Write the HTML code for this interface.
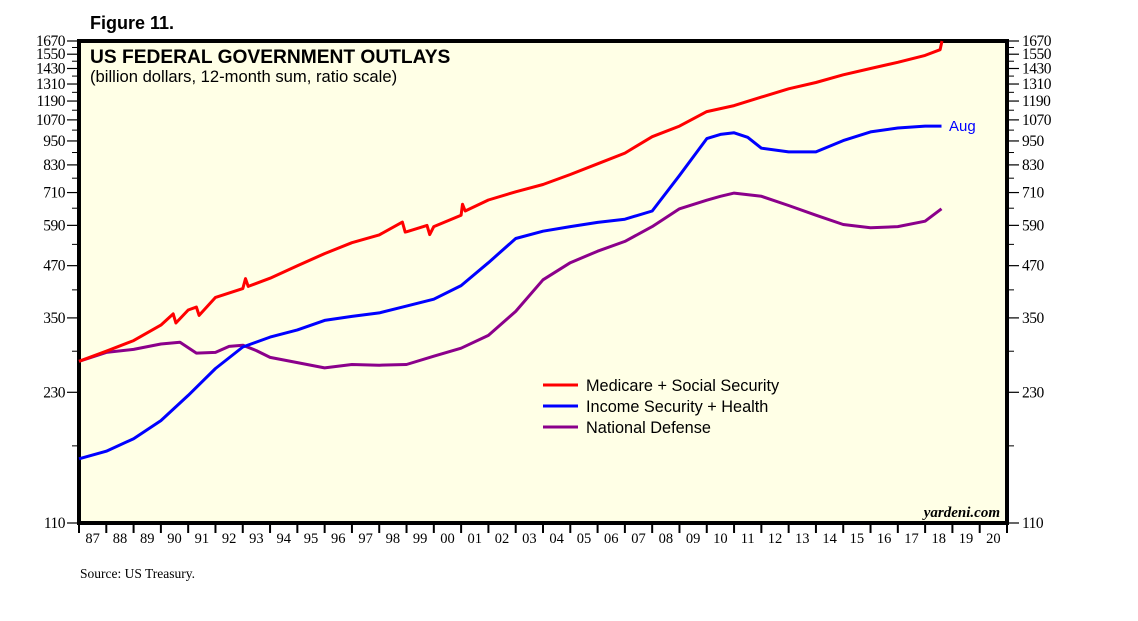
<!DOCTYPE html>
<html><head><meta charset="utf-8"><style>
body{margin:0;background:#fff;width:1138px;height:621px;overflow:hidden}
svg{display:block}
</style></head><body>
<svg id="chart" width="1138" height="621" xmlns="http://www.w3.org/2000/svg">
<text x="90" y="29" font-family="Liberation Sans, sans-serif" font-weight="bold" font-size="18">Figure 11.</text>
<rect x="79" y="41" width="928" height="482" fill="#ffffe6" stroke="#000" stroke-width="4"/>
<text x="90" y="63" font-family="Liberation Sans, sans-serif" font-weight="bold" font-size="19.2">US FEDERAL GOVERNMENT OUTLAYS</text>
<text x="90" y="82" font-family="Liberation Sans, sans-serif" font-size="16.6">(billion dollars, 12-month sum, ratio scale)</text>
<text x="1000" y="517" text-anchor="end" font-family="Liberation Serif, serif" font-style="italic" font-weight="bold" font-size="15">yardeni.com</text>
<text x="80" y="578" font-family="Liberation Serif, serif" font-size="13.5">Source: US Treasury.</text>
<g id="axes"></g>
<g id="series"></g>
<g id="legend" font-family="Liberation Sans, sans-serif" font-size="16.3">
<line x1="543" y1="385" x2="578" y2="385" stroke="#ff0000" stroke-width="3"/>
<text x="586" y="391">Medicare + Social Security</text>
<line x1="543" y1="406" x2="578" y2="406" stroke="#0000ff" stroke-width="3"/>
<text x="586" y="412">Income Security + Health</text>
<line x1="543" y1="427" x2="578" y2="427" stroke="#8b008b" stroke-width="3"/>
<text x="586" y="433">National Defense</text>
</g>
<text x="949" y="131" font-family="Liberation Sans, sans-serif" font-size="15" fill="#0000ff">Aug</text>
</svg>
<script>
const yTicks=[110,230,350,470,590,710,830,950,1070,1190,1310,1430,1550,1670];
const yearLabels=["87","88","89","90","91","92","93","94","95","96","97","98","99","00","01","02","03","04","05","06","07","08","09","10","11","12","13","14","15","16","17","18","19","20"];
const medYears=[1987,1988,1989,1990,1990.45,1990.55,1991,1991.3,1991.4,1992,1993,1993.1,1993.2,1994,1995,1996,1997,1998,1998.85,1998.95,1999,1999.75,1999.85,2000,2001,2001.05,2001.15,2002,2003,2004,2005,2006,2007,2008,2009,2010,2011,2012,2013,2014,2015,2016,2017,2018,2018.55,2018.62];
const medVals=[274,290,308,336,358,340,366,372,355,393,413,437,418,438,470,503,535,559,601,568,569,590,560,586,625,665,640,681,713,743,786,835,887,973,1033,1121,1160,1217,1275,1321,1380,1430,1481,1540,1590,1670];
const incYears=[1987,1988,1989,1990,1991,1992,1993,1994,1995,1996,1997,1998,1999,2000,2001,2002,2003,2004,2005,2006,2007,2008,2009,2010,2010.5,2011,2011.5,2012,2013,2014,2015,2016,2017,2018,2018.6];
const incVals=[158,165,177,196,226,263,297,314,327,345,353,360,374,389,420,478,548,571,586,600,611,640,782,963,986,995,970,912,893,893,952,1000,1022,1033,1033];
const defYears=[1987,1988,1989,1990,1990.7,1991.3,1992,1992.5,1993,1993.5,1994,1995,1996,1997,1998,1999,2000,2001,2002,2003,2004,2005,2006,2007,2008,2009,2010,2010.5,2011,2012,2013,2014,2015,2016,2017,2018,2018.6];
const defVals=[274,288,293,302,305,287,288,298,300,291,280,272,264,269,268,269,282,295,317,363,434,478,510,539,586,648,680,695,708,695,660,625,593,582,586,604,648];

const L=79,R=1007,T=41,B=523,vMin=110,vMax=1670;
function yS(v){return B-(Math.log(v/vMin)/Math.log(vMax/vMin))*(B-T);}
function xS(yr){return L+(yr-1987)/34*(R-L);}
const NS="http://www.w3.org/2000/svg";
const axes=document.getElementById('axes');
function mk(tag,attrs,parent){const e=document.createElementNS(NS,tag);for(const k in attrs)e.setAttribute(k,attrs[k]);parent.appendChild(e);return e;}
yTicks.forEach((v,i)=>{
  const y=yS(v);
  const t1=mk('line',{x1:67,x2:79,y1:y,y2:y,stroke:'#000','stroke-width':1.2},axes);
  
  
  const t2=mk('line',{x1:1007,x2:1019,y1:y,y2:y,stroke:'#000','stroke-width':1.2},axes);
  
  
  const a=mk('text',{x:65,y:y+5,'text-anchor':'end','font-family':'Liberation Serif, serif','font-size':15.5,'letter-spacing':'-0.5'},axes);
  a.textContent=v;
  
  
  const b=mk('text',{x:1022,y:y+5,'font-family':'Liberation Serif, serif','font-size':15.5,'letter-spacing':'-0.5'},axes);
  b.textContent=v;
  
  
  if(i<yTicks.length-1){
    const ym=yS(v+60);
    const m1=mk('line',{x1:72,x2:79,y1:ym,y2:ym,stroke:'#000','stroke-width':1},axes);
    
    
    const m2=mk('line',{x1:1007,x2:1014,y1:ym,y2:ym,stroke:'#000','stroke-width':1},axes);
    
    
  }
});
yearLabels.forEach((lab,i)=>{
  const x=xS(1987+i);
  const t=mk('line',{x1:x,x2:x,y1:523,y2:533,stroke:'#000','stroke-width':2},axes);
  
  
  const tx=mk('text',{x:xS(1987.5+i),y:543,'text-anchor':'middle','font-family':'Liberation Serif, serif','font-size':14.5},axes);
  tx.textContent=lab;
  
  
});
const last=mk('line',{x1:R,x2:R,y1:523,y2:533,stroke:'#000','stroke-width':2},axes);


const series=document.getElementById('series');
function draw(xs,vs,col,name){
  const d=xs.map((x,i)=>(i?'L':'M')+xS(x).toFixed(1)+','+yS(vs[i]).toFixed(1)).join('');
  const p=mk('path',{d:d,fill:'none',stroke:col,'stroke-width':3,'stroke-linejoin':'round'},series);
  
  
}
draw(defYears,defVals,'#8b008b','line-national-defense');
draw(incYears,incVals,'#0000ff','line-income-security-health');
draw(medYears,medVals,'#ff0000','line-medicare-social-security');
</script>
</body></html>
